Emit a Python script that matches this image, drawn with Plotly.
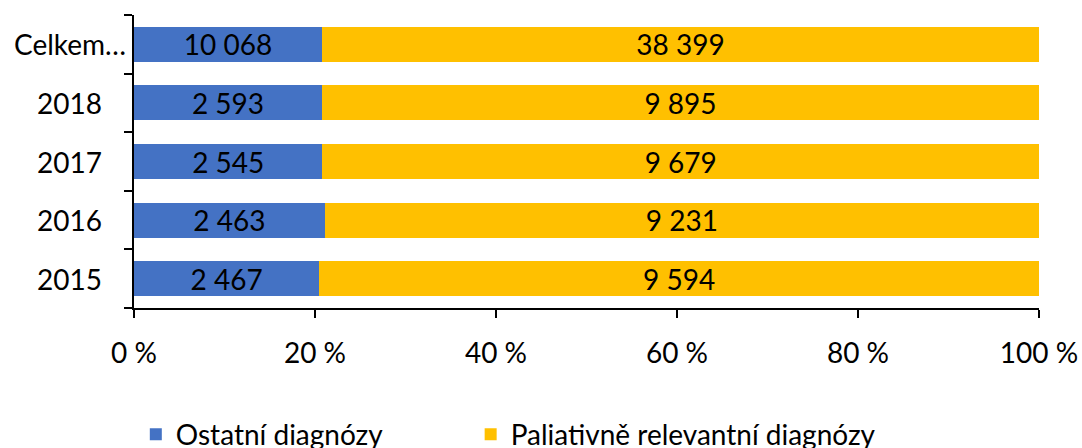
import plotly.graph_objects as go

# Categories (bottom to top) and absolute counts per series
categories = ["2015", "2016", "2017", "2018", "Celkem…"]
ostatni = [2467, 2463, 2545, 2593, 10068]
paliativni = [9594, 9231, 9679, 9895, 38399]
series_names = ["Ostatní diagnózy", "Paliativně relevantní diagnózy"]
x_ticks = [0, 20, 40, 60, 80, 100]

FONT = "Lato"
FS = 28


def fmt(v):
    return f"{v:,}".replace(",", " ")


fig = go.Figure()
for name, vals, color, leg in [
    (series_names[0], ostatni, "#4472C4", "legend"),
    (series_names[1], paliativni, "#FFC000", "legend2"),
]:
    fig.add_trace(go.Bar(
        y=categories,
        x=vals,
        name=name,
        orientation="h",
        legend=leg,
        marker=dict(color=color, line=dict(width=0)),
        text=[fmt(v) for v in vals],
        textposition="inside",
        insidetextanchor="middle",
        textangle=0,
        textfont=dict(family=FONT, size=FS, color="black"),
        hoverinfo="skip",
    ))

# Category labels, centered in the left gutter
for i, c in enumerate(categories):
    fig.add_annotation(
        x=-0.071, y=i, xref="paper", yref="y",
        text=c, showarrow=False, xanchor="center", yanchor="middle",
        font=dict(family=FONT, size=FS, color="black"),
    )

legend_style = dict(
    orientation="h",
    xref="paper", yref="container",
    xanchor="left", yanchor="middle",
    y=0.03,
    font=dict(family=FONT, size=FS, color="black"),
    itemclick=False, itemdoubleclick=False,
    bgcolor="rgba(0,0,0,0)",
)

fig.update_layout(
    width=1082, height=448,
    margin=dict(l=134, r=43, t=15, b=140, autoexpand=False),
    barmode="stack",
    barnorm="percent",
    bargap=0.4,
    plot_bgcolor="white",
    paper_bgcolor="white",
    uniformtext=dict(mode="show", minsize=FS),
    font=dict(family=FONT, size=FS, color="black"),
    xaxis=dict(
        range=[0, 100],
        tickvals=x_ticks,
        ticktext=[f"{t} %" for t in x_ticks],
        showgrid=False,
        zeroline=False,
        showline=True, linecolor="black", linewidth=2,
        ticks="outside", ticklen=8, tickwidth=2, tickcolor="black",
        ticklabelstandoff=11,
        tickfont=dict(family=FONT, size=FS, color="black"),
        fixedrange=True,
    ),
    yaxis=dict(
        type="category",
        categoryorder="array", categoryarray=categories,
        range=[-0.5, len(categories) - 0.5],
        showticklabels=False,
        showgrid=False,
        zeroline=False,
        showline=True, linecolor="black", linewidth=2,
        ticks="outside", ticklen=8, tickwidth=2, tickcolor="black",
        tickson="boundaries",
        fixedrange=True,
    ),
    legend=dict(x=0.002, **legend_style),
    legend2=dict(x=0.372, **legend_style),
    showlegend=True,
)

fig.write_html("out.html")
